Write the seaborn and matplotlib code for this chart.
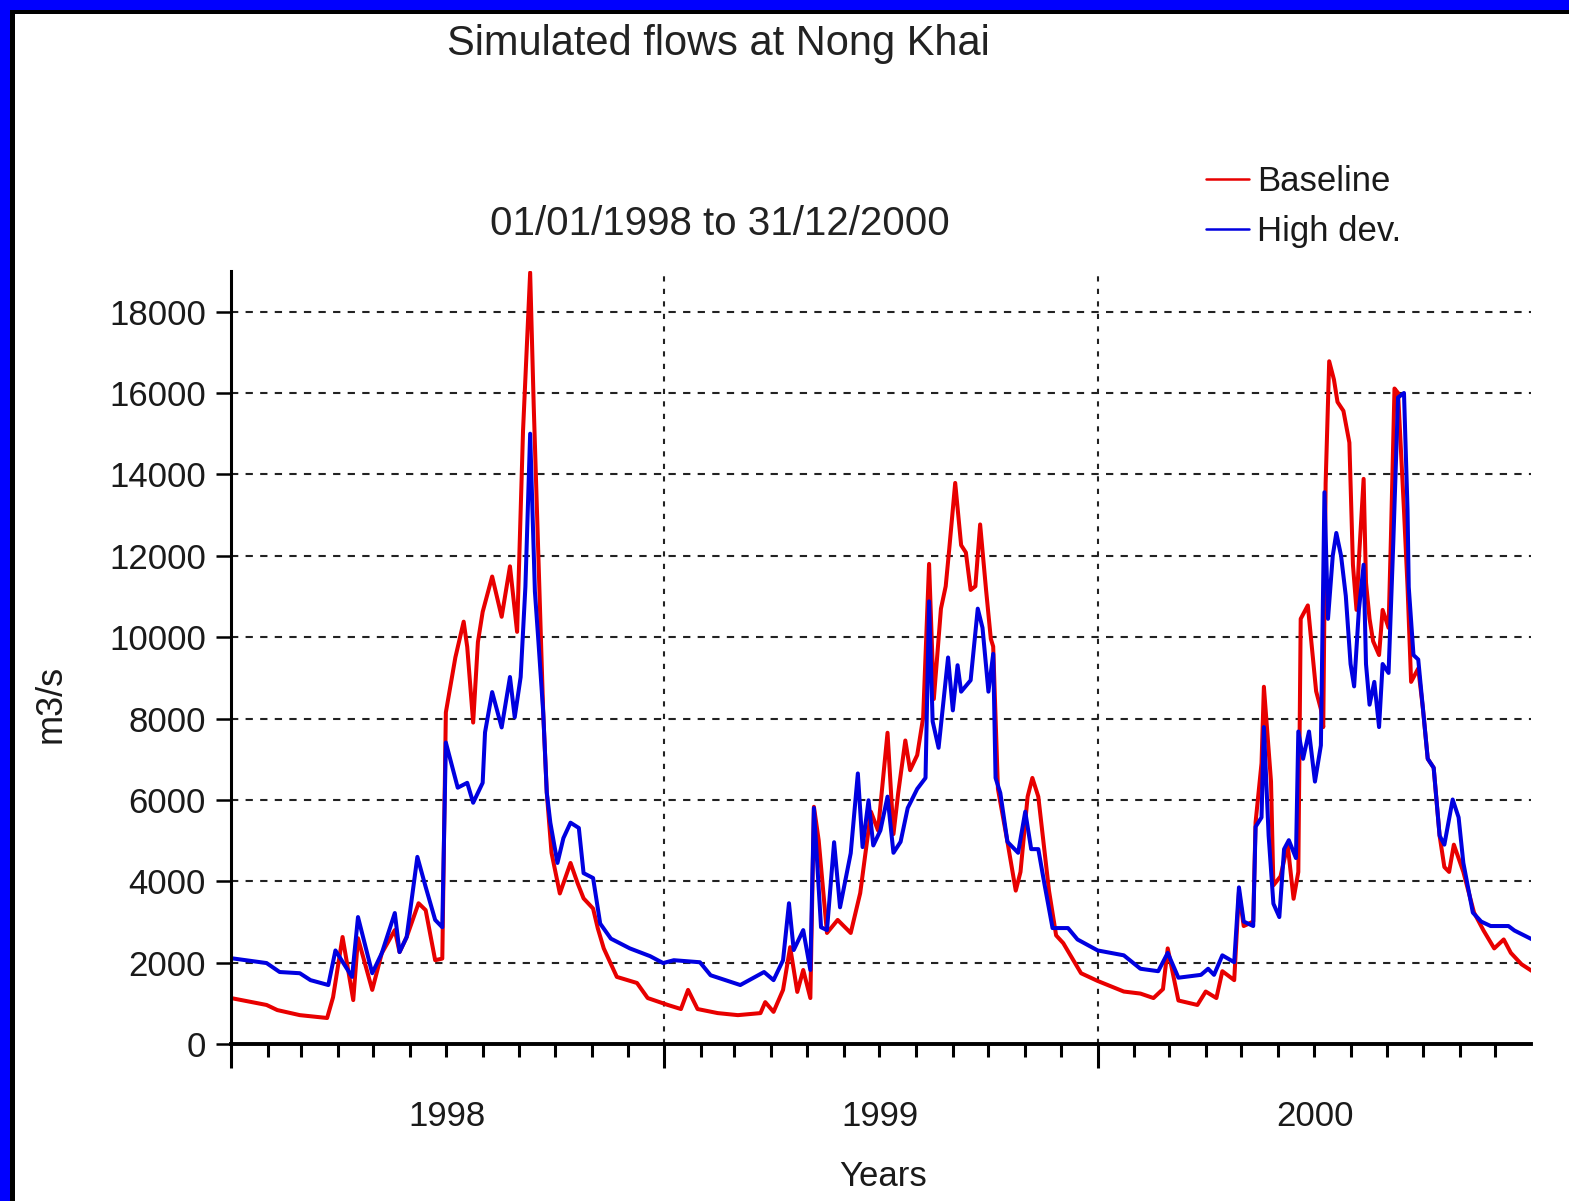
import seaborn as sns
import pandas as pd
import matplotlib.pyplot as plt
import matplotlib.dates as mdates
from matplotlib.patches import Rectangle
from matplotlib.ticker import FixedLocator, NullFormatter

# days counted from 01/01/1998, flows in m3/s
base_day = [0, 30, 39, 58, 81, 86, 94, 103, 107, 119,
            127, 138, 142, 148, 158, 164, 172, 178, 181, 189,
            196, 199, 204, 208, 212, 220, 228, 235, 241, 244,
            246, 252, 255, 258, 263, 266, 270, 277, 286, 292,
            297, 305, 309, 314, 325, 342, 351, 368, 379, 385,
            393, 410, 427, 446, 450, 457, 465, 471, 477, 482,
            488, 491, 495, 502, 511, 522, 530, 539, 545, 553,
            558, 562, 568, 572, 578, 583, 588, 592, 598, 602,
            605, 610, 615, 619, 623, 627, 631, 636, 640, 642,
            646, 654, 661, 665, 671, 675, 680, 685, 689, 695,
            701, 716, 730, 752, 766, 777, 785, 789, 798, 814,
            821, 830, 835, 845, 849, 853, 861, 863, 868, 870,
            876, 878, 884, 890, 895, 899, 901, 907, 914, 918,
            920, 922, 925, 929, 932, 937, 942, 945, 948, 950,
            954, 956, 959, 962, 967, 970, 975, 977, 980, 983,
            988, 991, 994, 1000, 1004, 1008, 1013, 1018, 1022, 1026,
            1030, 1038, 1047, 1055, 1064, 1072, 1078, 1087, 1096]
base_flow = [1130, 960, 835, 710, 640, 1150, 2630, 1080, 2600, 1330,
             2230, 2800, 2260, 2630, 3460, 3290, 2060, 2100, 8150, 9500,
             10380, 9760, 7900, 9880, 10620, 11490, 10500, 11740, 10130, 13100,
             15070, 18960, 15690, 12850, 8150, 6180, 4700, 3700, 4450, 3950,
             3580, 3330, 2840, 2350, 1650, 1500, 1130, 960, 860, 1330,
             860, 760, 710, 760, 1030, 790, 1330, 2380, 1280, 1820,
             1130, 5830, 5010, 2730, 3050, 2730, 3710, 5710, 5250, 7650,
             5160, 6170, 7460, 6730, 7100, 8020, 11800, 8480, 10700, 11250,
             12170, 13790, 12260, 12080, 11160, 11250, 12770, 11160, 9960, 9770,
             6270, 4970, 3770, 4230, 6080, 6540, 6080, 4790, 3770, 2670,
             2480, 1740, 1550, 1290, 1240, 1130, 1350, 2350, 1070, 960,
             1290, 1130, 1790, 1570, 3730, 2900, 3010, 5450, 6900, 8780,
             6450, 3900, 4120, 4900, 3570, 4230, 10450, 10780, 8670, 8230,
             7790, 13780, 16780, 16330, 15780, 15560, 14780, 11780, 10670, 11900,
             13890, 11340, 10450, 9900, 9560, 10670, 10230, 12450, 16110, 16000,
             13110, 11230, 8900, 9230, 8230, 7010, 6790, 5120, 4350, 4230,
             4900, 4230, 3230, 2790, 2350, 2570, 2240, 1960, 1790]

dev_day = [0, 30, 41, 58, 67, 82, 88, 102, 107, 119,
           127, 138, 142, 148, 157, 164, 172, 178, 181, 191,
           199, 204, 212, 214, 220, 228, 235, 239, 244, 248,
           252, 256, 259, 263, 266, 269, 275, 280, 286, 293,
           297, 305, 311, 320, 336, 353, 364, 373, 395, 404,
           429, 449, 457, 465, 470, 474, 482, 488, 491, 497,
           502, 508, 513, 522, 528, 532, 537, 541, 547, 553,
           558, 564, 570, 578, 585, 588, 591, 596, 604, 608,
           612, 615, 623, 629, 633, 638, 642, 644, 648, 654,
           663, 669, 674, 680, 685, 692, 705, 713, 730, 752,
           766, 781, 789, 798, 817, 823, 828, 835, 845, 849,
           853, 861, 863, 868, 870, 874, 878, 883, 887, 891,
           897, 899, 903, 908, 913, 918, 921, 924, 928, 931,
           935, 939, 943, 946, 950, 954, 956, 959, 963, 967,
           970, 975, 979, 983, 988, 991, 992, 996, 1000, 1004,
           1008, 1013, 1018, 1022, 1029, 1034, 1038, 1046, 1053, 1061,
           1076, 1081, 1096]
dev_flow = [2110, 1990, 1770, 1740, 1570, 1450, 2300, 1650, 3120, 1740,
            2230, 3220, 2260, 2630, 4600, 3860, 3050, 2870, 7410, 6300,
            6420, 5930, 6420, 7660, 8650, 7780, 9020, 8030, 9020, 11240,
            15000, 11120, 9880, 8150, 6180, 5440, 4450, 5060, 5440, 5310,
            4200, 4080, 2960, 2590, 2350, 2160, 1990, 2060, 2010, 1690,
            1450, 1770, 1570, 2060, 3460, 2310, 2800, 1820, 5800, 2870,
            2800, 4960, 3360, 4690, 6650, 4840, 5990, 4880, 5250, 6080,
            4700, 4970, 5800, 6270, 6540, 10880, 7930, 7280, 9500, 8200,
            9310, 8660, 8940, 10700, 10230, 8660, 9590, 6540, 6170, 4970,
            4700, 5710, 4790, 4790, 3960, 2850, 2850, 2570, 2300, 2180,
            1850, 1790, 2240, 1630, 1700, 1850, 1700, 2180, 2010, 3850,
            3010, 2900, 5340, 5570, 7790, 5120, 3450, 3120, 4790, 5010,
            4570, 7680, 7010, 7680, 6450, 7340, 13560, 10450, 12000, 12560,
            12000, 11010, 9340, 8790, 10670, 11780, 9340, 8340, 8900, 7790,
            9340, 9120, 12340, 15890, 16000, 13110, 11230, 9560, 9450, 8230,
            7010, 6790, 5120, 4900, 6010, 5570, 4450, 3230, 3010, 2900,
            2900, 2790, 2570]

series_names = ['Baseline', 'High dev.']
year_labels = ['1998', '1999', '2000']
y_ticks = [0, 2000, 4000, 6000, 8000, 10000, 12000, 14000, 16000, 18000]

start = pd.Timestamp('1998-01-01')
df = pd.concat([
    pd.DataFrame({'date': start + pd.to_timedelta(base_day, unit='D'),
                  'flow': base_flow, 'series': series_names[0]}),
    pd.DataFrame({'date': start + pd.to_timedelta(dev_day, unit='D'),
                  'flow': dev_flow, 'series': series_names[1]}),
])

sns.set_style('ticks')
plt.rcParams['font.family'] = ['Liberation Sans Narrow', 'Liberation Sans', 'DejaVu Sans']

fig = plt.figure(figsize=(15.69, 12.01), dpi=100)
ax = fig.add_axes([0.1472, 0.1307, 0.8286, 0.6437])

sns.lineplot(data=df, x='date', y='flow', hue='series',
             palette={'Baseline': '#e80000', 'High dev.': '#0000e0'},
             estimator=None, linewidth=2.9, ax=ax)

ax.set_xlim(pd.Timestamp('1998-01-01'), pd.Timestamp('2000-12-31'))
ax.set_ylim(0, 19000)
ax.set_yticks(y_ticks)
ax.set_yticklabels([str(v) for v in y_ticks])

year_starts = [pd.Timestamp(f'{y}-01-01') for y in year_labels]
ax.xaxis.set_major_locator(FixedLocator(mdates.date2num(year_starts)))
ax.xaxis.set_major_formatter(NullFormatter())
ax.xaxis.set_minor_locator(mdates.MonthLocator())
ax.xaxis.set_minor_formatter(NullFormatter())

ax.tick_params(axis='x', which='major', direction='out', length=17, width=2.2, color='black')
ax.tick_params(axis='x', which='minor', direction='out', length=9, width=2.2, color='black')
ax.tick_params(axis='y', direction='out', length=11, width=1.8, pad=7,
               labelsize=25, color='black', labelcolor='#1a1a1a')

# year names centred in each year
sec = ax.secondary_xaxis('bottom')
mid_years = [pd.Timestamp(f'{y}-07-02') for y in year_labels]
sec.set_xticks(mdates.date2num(mid_years))
sec.set_xticklabels(year_labels)
sec.tick_params(length=0, pad=40, labelsize=25, labelcolor='#1a1a1a')
sec.spines['bottom'].set_visible(False)

ax.grid(True, axis='y', color='#222222', linestyle=(0, (3.5, 3.5)), linewidth=1.5)
ax.grid(True, axis='x', which='major', color='#222222', linestyle=(0, (2.5, 3.5)), linewidth=1.5)

sns.despine(ax=ax)
ax.spines['left'].set_linewidth(2.2)
ax.spines['bottom'].set_linewidth(2.8)
ax.spines['left'].set_color('black')
ax.spines['bottom'].set_color('black')

ax.set_ylabel('m3/s', fontsize=26, color='#1a1a1a')
ax.yaxis.set_label_coords(-0.125, 0.44)
ax.set_xlabel('Years', fontsize=25, color='#1a1a1a')
ax.xaxis.set_label_coords(0.5015, -0.150)

handles, labels = ax.get_legend_handles_labels()
ax.get_legend().remove()
leg = fig.legend(handles, labels, loc='upper left', bbox_to_anchor=(1206 / 1569, 1 - 165 / 1201),
                 frameon=False, fontsize=25, handlelength=1.25, handletextpad=0.22,
                 labelspacing=0.5, borderpad=0, borderaxespad=0)
for line in leg.get_lines():
    line.set_linewidth(1.8)
for t in leg.get_texts():
    t.set_color('#1a1a1a')

fig.text(0.4576, 0.963, 'Simulated flows at Nong Khai', fontsize=30,
         ha='center', va='center', color='#222222')
fig.text(0.4589, 0.8135, '01/01/1998 to 31/12/2000', fontsize=29,
         ha='center', va='center', color='#222222')

# slide frame around the picture
fig.patches.append(Rectangle((0, 1 - 10 / 1201), 1, 10 / 1201, transform=fig.transFigure,
                             facecolor='#0000ff', edgecolor='none', zorder=5))
fig.patches.append(Rectangle((0, 0), 10 / 1569, 1, transform=fig.transFigure,
                             facecolor='#0000ff', edgecolor='none', zorder=5))
fig.patches.append(Rectangle((10 / 1569, 1 - 14 / 1201), 1, 4 / 1201, transform=fig.transFigure,
                             facecolor='black', edgecolor='none', zorder=5))
fig.patches.append(Rectangle((10 / 1569, 0), 5 / 1569, 1 - 10 / 1201, transform=fig.transFigure,
                             facecolor='black', edgecolor='none', zorder=5))

fig.savefig('out.png', dpi=100)
